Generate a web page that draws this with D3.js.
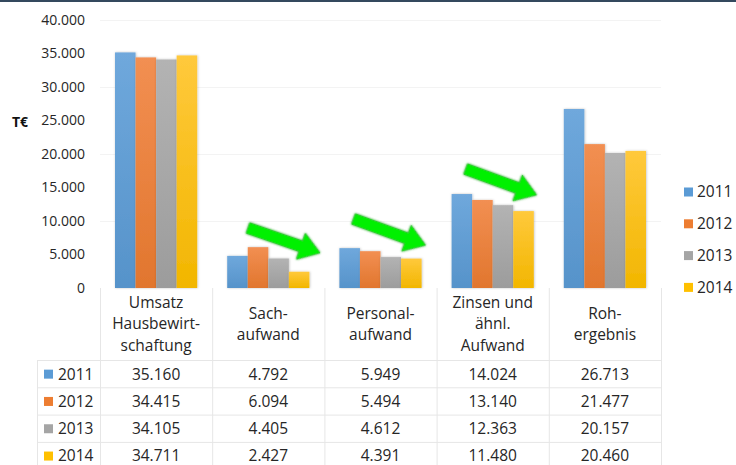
<!DOCTYPE html>
<html>
<head>
<meta charset="utf-8">
<script src="https://cdn.jsdelivr.net/npm/d3@7"></script>
<style>
  body { margin: 0; background: #fff; }
  svg { display: block; font-family: "Open Sans", sans-serif; }
</style>
</head>
<body>
<svg width="736" height="465"></svg>
<script>
// Data
var categories = [
  ["Umsatz", "Hausbewirt-", "schaftung"],
  ["Sach-", "aufwand"],
  ["Personal-", "aufwand"],
  ["Zinsen und", "ähnl.", "Aufwand"],
  ["Roh-", "ergebnis"]
];
var years = ["2011", "2012", "2013", "2014"];
var v2011 = [35160, 4792, 5949, 14024, 26713];
var v2012 = [34415, 6094, 5494, 13140, 21477];
var v2013 = [34105, 4405, 4612, 12363, 20157];
var v2014 = [34711, 2427, 4391, 11480, 20460];
var yTicks = [0, 5000, 10000, 15000, 20000, 25000, 30000, 35000, 40000];
var colors = ["#5b9bd5", "#ed7d31", "#a5a5a5", "#ffc000"];
var lightColors = ["#6fa8dc", "#f28f52", "#b3b3b3", "#ffc93c"];

// arrows: category index, tail/tip as fraction of band and value
var arrows = [
  { cat: 1, x0: 0.32, y0: 8950, x1: 0.96, y1: 5250 },
  { cat: 2, x0: 0.26, y0: 10300, x1: 0.90, y1: 6400 },
  { cat: 3, x0: 0.26, y0: 17750, x1: 0.89, y1: 13900 }
];

var series = [v2011, v2012, v2013, v2014];
var fmt = function (v) { return d3.format(",")(v).replace(/,/g, "."); };

var svg = d3.select("svg");
var textColor = "#262626";

// top border
svg.append("rect").attr("x", 0).attr("y", 0).attr("width", 736).attr("height", 2).attr("fill", "#34495e");

var x = d3.scaleBand().domain(d3.range(categories.length)).range([100, 661]);
var x1 = d3.scaleBand().domain(d3.range(years.length)).range([15, x.bandwidth() - 15]);
var y = d3.scaleLinear().domain([0, 40000]).range([288, 20]);

// gradients
var defs = svg.append("defs");
colors.forEach(function (c, i) {
  var g = defs.append("linearGradient").attr("id", "g" + i)
    .attr("x1", 0).attr("y1", 0).attr("x2", 0).attr("y2", 1);
  g.append("stop").attr("offset", "0%").attr("stop-color", lightColors[i]);
  g.append("stop").attr("offset", "100%").attr("stop-color", d3.color(c).darker(0.15));
});
var sh = defs.append("filter").attr("id", "shadow").attr("x", "-20%").attr("y", "-20%").attr("width", "140%").attr("height", "140%");
sh.append("feDropShadow").attr("dx", 0.5).attr("dy", 0).attr("stdDeviation", 0.8).attr("flood-color", "#000").attr("flood-opacity", 0.25);
var glow = defs.append("filter").attr("id", "glow").attr("x", "-20%").attr("y", "-40%").attr("width", "140%").attr("height", "180%");
glow.append("feGaussianBlur").attr("in", "SourceAlpha").attr("stdDeviation", 1.2).attr("result", "b");
glow.append("feFlood").attr("flood-color", "#19a319");
glow.append("feComposite").attr("in2", "b").attr("operator", "in").attr("result", "s");
var m = glow.append("feMerge");
m.append("feMergeNode").attr("in", "s");
m.append("feMergeNode").attr("in", "SourceGraphic");

// gridlines
svg.append("g").selectAll("line")
  .data([10000, 20000, 30000, 40000])
  .enter().append("line")
  .attr("x1", 100).attr("x2", 661)
  .attr("y1", function (d) { return y(d) + 0.5; })
  .attr("y2", function (d) { return y(d) + 0.5; })
  .attr("stroke", "#f3f3f3");

// y axis labels
svg.append("g").selectAll("text")
  .data(yTicks)
  .enter().append("text")
  .attr("x", 85)
  .attr("y", function (d) { return y(d); })
  .attr("dy", "0.35em")
  .attr("text-anchor", "end")
  .attr("font-size", 14)
  .attr("fill", textColor)
  .text(function (d) { return d === 0 ? "0" : fmt(d); });

svg.append("text")
  .attr("x", 12).attr("y", 122).attr("dy", "0.35em")
  .attr("font-size", 14).attr("font-weight", "bold").attr("fill", "#111")
  .text("T€");

// bars
var groups = svg.append("g").selectAll("g")
  .data(categories)
  .enter().append("g")
  .attr("transform", function (d, i) { return "translate(" + x(i) + ",0)"; });

groups.selectAll("rect")
  .data(function (d, i) { return series.map(function (s, j) { return { j: j, v: s[i] }; }); })
  .enter().append("rect")
  .attr("x", function (d) { return x1(d.j); })
  .attr("width", x1.bandwidth())
  .attr("y", function (d) { return y(d.v); })
  .attr("height", function (d) { return y(0) - y(d.v); })
  .attr("fill", function (d) { return "url(#g" + d.j + ")"; })
  .attr("filter", "url(#shadow)");

// arrows
arrows.forEach(function (a) {
  var ax0 = x(a.cat) + a.x0 * x.bandwidth(), ay0 = y(a.y0);
  var ax1 = x(a.cat) + a.x1 * x.bandwidth(), ay1 = y(a.y1);
  var len = Math.hypot(ax1 - ax0, ay1 - ay0);
  var ang = Math.atan2(ay1 - ay0, ax1 - ax0) * 180 / Math.PI;
  var sw = 5.5, hw = 13.5, hl = 20;
  var pts = [[0, -sw], [len - hl, -sw], [len - hl, -hw], [len, 0], [len - hl, hw], [len - hl, sw], [0, sw]];
  svg.append("polygon")
    .attr("points", pts.map(function (p) { return p.join(","); }).join(" "))
    .attr("transform", "translate(" + ax0 + "," + ay0 + ") rotate(" + ang + ")")
    .attr("fill", "#00f000")
    .attr("stroke", "#2ecc2e")
    .attr("stroke-width", 1)
    .attr("filter", "url(#glow)");
});

// data table
var gridColor = "#e6e6e6";
var rowTop = 360, rowH = 27.3;
var table = svg.append("g");

// vertical lines
table.selectAll("line.v")
  .data(d3.range(categories.length + 1))
  .enter().append("line")
  .attr("x1", function (i) { return i < categories.length ? x(i) + 0.5 : x(i - 1) + x.bandwidth() + 0.5; })
  .attr("x2", function (i) { return i < categories.length ? x(i) + 0.5 : x(i - 1) + x.bandwidth() + 0.5; })
  .attr("y1", 288).attr("y2", 465)
  .attr("stroke", gridColor);

// horizontal lines
table.selectAll("line.h")
  .data(d3.range(years.length))
  .enter().append("line")
  .attr("x1", 37).attr("x2", 661)
  .attr("y1", function (i) { return rowTop + i * rowH + 0.5; })
  .attr("y2", function (i) { return rowTop + i * rowH + 0.5; })
  .attr("stroke", gridColor);
table.append("line").attr("x1", 37.5).attr("x2", 37.5).attr("y1", rowTop).attr("y2", 465).attr("stroke", gridColor);

// header labels
categories.forEach(function (lines, i) {
  var lh = 21.5;
  var cy = 324 - (lines.length - 1) * lh / 2;
  var t = table.append("text")
    .attr("text-anchor", "middle")
    .attr("font-size", 15.5)
    .attr("fill", textColor);
  lines.forEach(function (l, k) {
    t.append("tspan")
      .attr("x", x(i) + x.bandwidth() / 2)
      .attr("y", cy + k * lh)
      .attr("dy", "0.35em")
      .text(l);
  });
});

// rows
years.forEach(function (yr, j) {
  var cy = rowTop + j * rowH + rowH / 2 + 0.5;
  table.append("rect").attr("x", 44).attr("y", cy - 4.5).attr("width", 9).attr("height", 9).attr("fill", colors[j]);
  table.append("text").attr("x", 58).attr("y", cy).attr("dy", "0.35em")
    .attr("font-size", 15.5).attr("fill", textColor).text(yr);
  series[j].forEach(function (v, i) {
    table.append("text")
      .attr("x", x(i) + x.bandwidth() / 2)
      .attr("y", cy).attr("dy", "0.35em")
      .attr("text-anchor", "middle")
      .attr("font-size", 15.5).attr("fill", textColor)
      .text(fmt(v));
  });
});

// legend
var legend = svg.append("g").selectAll("g")
  .data(years)
  .enter().append("g")
  .attr("transform", function (d, i) { return "translate(684," + (192 + i * 31.8) + ")"; });
legend.append("rect").attr("x", 0).attr("y", -4.5).attr("width", 9).attr("height", 9)
  .attr("fill", function (d, i) { return colors[i]; });
legend.append("text").attr("x", 13).attr("dy", "0.35em")
  .attr("font-size", 15.5).attr("fill", textColor)
  .text(function (d) { return d; });
</script>
</body>
</html>
